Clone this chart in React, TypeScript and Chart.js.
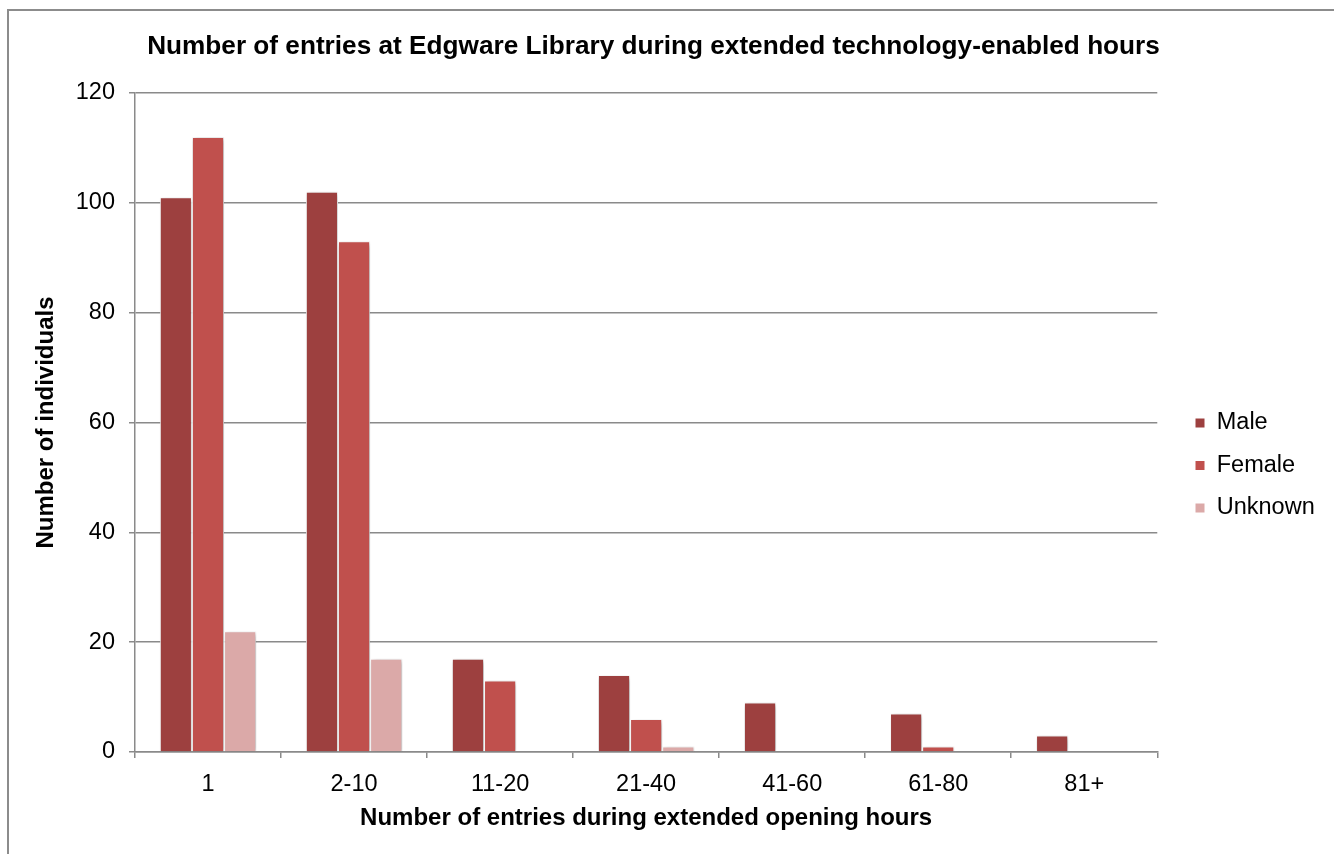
import React, { useEffect, useRef } from "react";
import { Chart, registerables } from "chart.js";

Chart.register(...registerables);

const titleText = "Number of entries at Edgware Library during extended technology-enabled hours";
const xAxisTitle = "Number of entries during extended opening hours";
const yAxisTitle = "Number of individuals";

const categories = ["1", "2-10", "11-20", "21-40", "41-60", "61-80", "81+"];
const maleValues = [101, 102, 17, 14, 9, 7, 3];
const femaleValues = [112, 93, 13, 6, 0, 1, 0];
const unknownValues = [22, 17, 0, 1, 0, 0, 0];
const seriesNames = ["Male", "Female", "Unknown"];
const yTicks = { min: 0, max: 120, step: 20 };

const FONT = "'Liberation Sans', Arial, sans-serif";
const GRID = "#8a8a8a";

const framePlugin = {
  id: "frame",
  beforeDraw(chart: any) {
    const ctx = chart.ctx;
    ctx.save();
    ctx.fillStyle = "#ffffff";
    ctx.fillRect(0, 0, chart.width, chart.height);
    ctx.strokeStyle = "#8c8c8c";
    ctx.lineWidth = 2;
    ctx.beginPath();
    ctx.moveTo(8, chart.height);
    ctx.lineTo(8, 10);
    ctx.lineTo(chart.width, 10);
    ctx.stroke();
    ctx.restore();
  },
};

const shadowPlugin = {
  id: "barShadow",
  beforeDatasetsDraw(chart: any) {
    const ctx = chart.ctx;
    ctx.save();
    ctx.shadowColor = "rgba(0,0,0,0.3)";
    ctx.shadowBlur = 5;
    ctx.shadowOffsetX = 1.5;
    ctx.shadowOffsetY = 1.5;
  },
  afterDatasetsDraw(chart: any) {
    chart.ctx.restore();
  },
};

const legendShift = {
  id: "legendShift",
  afterLayout(chart: any) {
    const lg = chart.legend;
    if (!lg) return;
    const pad = lg.options.labels.padding;
    const fs = lg.options.labels.font.size;
    const w = lg.width;
    const h = lg.height;
    lg.left = 1195 - pad;
    lg.right = lg.left + w;
    lg.top = 423 - fs / 2 - pad;
    lg.bottom = lg.top + h;
  },
};

export default function App() {
  const ref = useRef<HTMLCanvasElement | null>(null);

  useEffect(() => {
    if (!ref.current) return;
    const chart = new Chart(ref.current, {
      type: "bar",
      data: {
        labels: categories,
        datasets: [
          {
            label: seriesNames[0],
            data: maleValues,
            backgroundColor: "#9d403f",
            borderColor: "#ffffff",
            borderWidth: 1,
          },
          {
            label: seriesNames[1],
            data: femaleValues,
            backgroundColor: "#c0504d",
            borderColor: "#ffffff",
            borderWidth: 1,
          },
          {
            label: seriesNames[2],
            data: unknownValues,
            backgroundColor: "#dba9a8",
            borderColor: "#ffffff",
            borderWidth: 1,
          },
        ],
      },
      options: {
        responsive: false,
        animation: false,
        devicePixelRatio: 1,
        layout: { padding: { left: 1, top: 10, right: 28, bottom: 0 } },
        datasets: {
          bar: { categoryPercentage: 0.66, barPercentage: 1.0 },
        },
        plugins: {
          title: {
            display: true,
            text: titleText,
            color: "#000000",
            font: { family: FONT, size: 26.2, weight: "bold" },
            padding: { top: 21.3, bottom: 30.26 },
          },
          legend: {
            display: true,
            position: "right",
            align: "start",
            labels: {
              boxWidth: 10,
              boxHeight: 10,
              padding: 19,
              color: "#000000",
              font: { family: FONT, size: 23.5 },
            },
          },
          tooltip: { enabled: false },
        },
        scales: {
          x: {
            grid: {
              display: true,
              drawOnChartArea: false,
              drawTicks: true,
              tickLength: 6,
              offset: true,
              color: GRID,
              lineWidth: 1.5,
            },
            border: { display: true, color: GRID, width: 1.5 },
            ticks: {
              color: "#000000",
              padding: 12,
              font: { family: FONT, size: 23.5 },
            },
            title: {
              display: true,
              text: xAxisTitle,
              color: "#000000",
              font: { family: FONT, size: 24, weight: "bold" },
              padding: { top: 0, bottom: 21 },
            },
            afterFit(scale: any) {
              scale.height = 854 - 752;
            },
          },
          y: {
            min: yTicks.min,
            max: yTicks.max,
            grid: {
              display: true,
              drawTicks: true,
              tickLength: 6,
              color: GRID,
              lineWidth: 1.5,
            },
            border: { display: true, color: GRID, width: 1.5 },
            ticks: {
              stepSize: yTicks.step,
              color: "#000000",
              padding: 14,
              font: { family: FONT, size: 23.5 },
            },
            title: {
              display: true,
              text: yAxisTitle,
              color: "#000000",
              font: { family: FONT, size: 24, weight: "bold" },
              padding: { top: 31, bottom: 0 },
            },
            afterFit(scale: any) {
              scale.width = 135 - 1;
            },
          },
        },
      },
      plugins: [framePlugin, shadowPlugin, legendShift],
    } as any);
    return () => chart.destroy();
  }, []);

  return (
    <div style={{ position: "absolute", left: 0, top: 0, width: 1334, height: 854, overflow: "hidden" }}>
      <canvas ref={ref} width={1334} height={854} style={{ display: "block", width: 1334, height: 854 }} />
    </div>
  );
}
